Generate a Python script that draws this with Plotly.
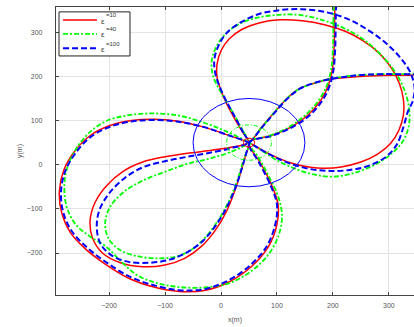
import plotly.graph_objects as go

# ---- trajectory data (metres); each run makes four loops through the centre (50, 50)
# eps = 10
eps10_x = [50, 38, 24, 10, 0, -7, -7, 0, 14, 37, 68, 105, 145, 185, 222, 255, 283, 305, 319, 326, 326, 318, 303, 280, 250, 215, 185, 160, 130, 100, 75,
           50, 10, -30, -80, -120, -160, -200, -235, -262, -281, -289, -285, -270, -243, -207, -165, -120, -75, -30, 15, 55, 85, 100, 102, 90, 70,
           50, 90, 125, 155, 178, 192, 199, 202, 203, 204, 210, 235, 290, 370, 440, 470, 455, 410, 345, 290, 240, 195, 165, 140, 118, 95, 72,
           50, 20, -20, -60, -100, -140, -175, -205, -225, -234, -230, -212, -180, -140, -100, -65, -35, -10, 10, 25, 37, 45, 50]
eps10_y = [50, 75, 105, 138, 168, 198, 228, 258, 284, 306, 321, 328, 326, 317, 302, 280, 252, 218, 183, 148, 112, 78, 48, 24, 6, -5, -8, -6, 2, 16, 32,
           50, 68, 85, 99, 103, 100, 88, 65, 30, -12, -60, -108, -152, -190, -225, -257, -277, -287, -285, -265, -230, -185, -135, -90, -45, 5,
           50, 66, 85, 112, 145, 180, 215, 260, 310, 360, 400, 430, 445, 435, 395, 320, 250, 212, 203, 202, 199, 194, 184, 172, 150, 118, 84,
           50, 40, 32, 26, 18, 6, -15, -48, -85, -125, -165, -200, -222, -231, -227, -212, -185, -148, -105, -58, -10, 25, 50]

# eps = 40
eps40_x = [50, 40, 27, 12, -3, -14, -17, -10, 5, 30, 62, 100, 140, 180, 220, 255, 285, 310, 327, 336, 336, 326, 305, 275, 240, 202, 165, 130, 100, 75,
           50, 10, -30, -75, -120, -165, -205, -235, -258, -274, -280, -276, -260, -235, -205, -178, -150, -115, -75, -30, 15, 55, 85, 103, 109, 103, 85, 65,
           50, 90, 124, 153, 176, 190, 197, 200, 201, 202, 208, 233, 288, 368, 438, 468, 453, 408, 345, 290, 240, 193, 163, 139, 117, 94, 72,
           50, 20, -20, -60, -100, -140, -175, -198, -207, -202, -182, -150, -115, -80, -50, -25, -3, 15, 28, 40, 50]
eps40_y = [50, 75, 105, 138, 170, 200, 232, 263, 292, 317, 332, 339, 339, 328, 309, 283, 250, 212, 172, 130, 90, 55, 25, 0, -18, -27, -22, -8, 10, 30,
           50, 75, 95, 111, 116, 112, 99, 73, 38, -3, -45, -95, -135, -162, -186, -220, -250, -268, -277, -278, -268, -240, -203, -160, -117, -75, -25, 20,
           50, 67, 87, 115, 148, 182, 217, 262, 312, 362, 402, 432, 447, 437, 397, 322, 252, 214, 206, 205, 202, 194, 183, 171, 149, 117, 83,
           50, 30, 14, 2, -16, -36, -63, -95, -130, -165, -192, -207, -212, -208, -190, -160, -122, -80, -40, 10, 50]

# eps = 100
eps100_x = [50, 40, 27, 12, -1, -10, -12, -5, 10, 35, 68, 105, 145, 189, 230, 265, 295, 320, 338, 346, 343, 334, 326, 314, 295, 265, 230, 196, 160, 125, 95, 70,
            50, 10, -30, -80, -120, -160, -198, -233, -259, -278, -286, -282, -267, -240, -205, -164, -120, -75, -30, 13, 52, 82, 97, 100, 88, 68,
            50, 90, 126, 157, 180, 194, 201, 204, 205, 206, 212, 237, 292, 372, 442, 472, 457, 412, 345, 290, 240, 197, 166, 141, 119, 96, 73,
            50, 20, -20, -60, -100, -140, -172, -200, -218, -222, -215, -195, -165, -127, -92, -60, -32, -8, 12, 27, 38, 46, 50]
eps100_y = [50, 72, 103, 138, 172, 205, 237, 268, 298, 322, 341, 350, 352, 345, 328, 303, 275, 243, 210, 175, 145, 120, 85, 45, 18, -2, -12, -14, -10, 2, 18, 35,
            50, 68, 85, 98, 101, 98, 86, 63, 28, -13, -60, -108, -150, -187, -221, -253, -273, -284, -282, -262, -228, -184, -135, -90, -45, 5,
            50, 65, 84, 110, 143, 178, 214, 260, 310, 360, 402, 432, 447, 437, 397, 322, 252, 214, 205, 205, 202, 194, 185, 172, 150, 118, 84,
            50, 38, 27, 18, 8, -6, -30, -65, -105, -145, -180, -206, -220, -222, -215, -198, -172, -135, -92, -48, -5, 30, 50]

# tolerance circles around the centre
centre = (50, 50)
radii = [10, 40, 100]

eps_values = ["=10", "=40", "=100"]
series_names = ["ε=10", "ε=40", "ε=100"]
series_colors = ["#ff0000", "#00ff00", "#0000ff"]
series_dash = ["solid", "5px,2px,2px,2px", "6px,3px"]
series_width = [1.5, 1.8, 2.0]
circle_dash = ["solid", "4px,2px,1px,2px", "solid"]

x_ticks = [-200, -100, 0, 100, 200, 300]
y_ticks = [-200, -100, 0, 100, 200, 300]

fig = go.Figure()
for name, xs, ys, col, dash, w in zip(series_names,
                                      [eps10_x, eps40_x, eps100_x],
                                      [eps10_y, eps40_y, eps100_y],
                                      series_colors, series_dash, series_width):
    fig.add_trace(go.Scatter(x=xs, y=ys, mode="lines", name=name, showlegend=False,
                             line=dict(color=col, width=w, dash=dash,
                                       shape="spline", smoothing=1)))

for r, col, dash in zip(radii, series_colors, circle_dash):
    fig.add_shape(type="circle", xref="x", yref="y",
                  x0=centre[0] - r, x1=centre[0] + r,
                  y0=centre[1] - r, y1=centre[1] + r,
                  line=dict(color=col, width=1, dash=dash), layer="above")

font_family = "Liberation Sans, Arial, sans-serif"

# compact boxed legend in the upper-left corner (paper coordinates)
fig.add_shape(type="rect", xref="paper", yref="paper",
              x0=0.0084, x1=0.2067, y0=0.830, y1=0.983,
              line=dict(color="#222222", width=1), fillcolor="white", layer="above")
legend_rows = [0.955, 0.907, 0.857]
for row, val, col, dash, w in zip(legend_rows, eps_values, series_colors, series_dash, series_width):
    fig.add_shape(type="line", xref="paper", yref="paper",
                  x0=0.0196, x1=0.1145, y0=row, y1=row,
                  line=dict(color=col, width=w, dash=dash), layer="above")
    fig.add_annotation(xref="paper", yref="paper", x=0.121, y=row - 0.004,
                       text="ε", showarrow=False, xanchor="left", yanchor="middle",
                       font=dict(family=font_family, size=8, color="#333333"))
    fig.add_annotation(xref="paper", yref="paper", x=0.134, y=row + 0.016,
                       text=val, showarrow=False, xanchor="left", yanchor="middle",
                       font=dict(family=font_family, size=6, color="#333333"))

axis_common = dict(showgrid=True, gridcolor="#e3e3e3", gridwidth=1,
                   zeroline=False, showline=True, linecolor="#444444",
                   linewidth=1.2, ticks="inside", ticklen=3,
                   tickcolor="#444444",
                   tickfont=dict(family=font_family, size=7, color="#555555"))

fig.update_layout(
    width=414, height=327,
    margin=dict(l=56, r=0, t=7, b=32),
    paper_bgcolor="white", plot_bgcolor="white",
    xaxis=dict(range=[-295, 345], tickvals=x_ticks, mirror="ticks",
               title=dict(text="x(m)", standoff=9,
                          font=dict(family=font_family, size=7, color="#555555")),
               ticklabelstandoff=3, **axis_common),
    yaxis=dict(range=[-295, 357], tickvals=y_ticks, mirror=False,
               title=dict(text="y(m)", standoff=3,
                          font=dict(family=font_family, size=7, color="#555555")),
               ticklabelstandoff=11, **axis_common),
    showlegend=False,
)

fig.write_html("out.html")
